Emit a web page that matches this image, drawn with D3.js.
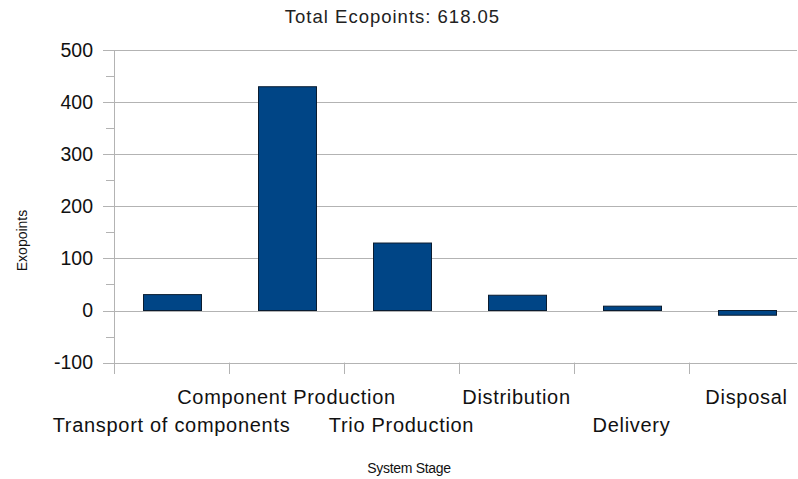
<!DOCTYPE html>
<html>
<head>
<meta charset="utf-8">
<script src="https://cdn.jsdelivr.net/npm/d3@7/dist/d3.min.js"></script>
<style>
  html, body { margin: 0; padding: 0; background: #fff; }
  svg { display: block; font-family: "Liberation Sans", Arial, sans-serif; }
</style>
</head>
<body>
<svg id="chart" width="798" height="479"></svg>
<script>
// Ecopoints per system stage
const categories = [
  "Transport of components",
  "Component Production",
  "Trio Production",
  "Distribution",
  "Delivery",
  "Disposal"
];
const ecopoints = [30.5, 429.5, 129.5, 29.3, 8.3, -9.05];
const yTicks = [-100, 0, 100, 200, 300, 400, 500];
const yMinorTicks = [-50, 50, 150, 250, 350, 450];
const titleText = "Total Ecopoints: 618.05";
const xTitle = "System Stage";
const yTitle = "Exopoints";

const svg = d3.select("#chart");
const plotLeft = 114, plotRight = 804, plotTop = 50, plotBottom = 362.6;

const y = d3.scaleLinear().domain([-100, 500]).range([plotBottom, plotTop]);
const x = d3.scaleBand().domain(categories).range([plotLeft, plotRight])
  .paddingInner(0.4957).paddingOuter(0.4957 / 2);

const gridColor = "#b3b3b3";

// horizontal gridlines with major tick stubs
svg.append("g").selectAll("line").data(yTicks).join("line")
  .attr("x1", 103).attr("x2", 797)
  .attr("y1", d => Math.round(y(d)) + 0.5).attr("y2", d => Math.round(y(d)) + 0.5)
  .attr("stroke", gridColor).attr("stroke-width", 1);

// minor ticks
svg.append("g").selectAll("line").data(yMinorTicks).join("line")
  .attr("x1", 106).attr("x2", plotLeft)
  .attr("y1", d => Math.round(y(d)) + 0.5).attr("y2", d => Math.round(y(d)) + 0.5)
  .attr("stroke", gridColor).attr("stroke-width", 1);

// vertical axis line
svg.append("line")
  .attr("x1", plotLeft + 0.5).attr("x2", plotLeft + 0.5)
  .attr("y1", plotTop).attr("y2", 374)
  .attr("stroke", gridColor);

// category boundary ticks
const step = x.step();
const gap = (step - x.bandwidth()) / 2;
const boundaries = categories.slice(1).map(c => x(c) - gap);
svg.append("g").selectAll("line").data(boundaries).join("line")
  .attr("x1", d => Math.round(d) + 0.5).attr("x2", d => Math.round(d) + 0.5)
  .attr("y1", plotBottom).attr("y2", 374)
  .attr("stroke", gridColor);

// bars
svg.append("g").selectAll("rect").data(ecopoints).join("rect")
  .attr("x", (d, i) => Math.round(x(categories[i])) + 0.5)
  .attr("width", Math.round(x.bandwidth()))
  .attr("y", d => y(Math.max(0, d)))
  .attr("height", d => Math.abs(y(d) - y(0)))
  .attr("fill", "#004586")
  .attr("stroke", "#0a1c30")
  .attr("stroke-width", 1);

// y tick labels
svg.append("g").selectAll("text").data(yTicks).join("text")
  .attr("x", 93).attr("y", d => y(d) + 6.8)
  .attr("text-anchor", "end")
  .attr("font-size", 19.5)
  .attr("fill", "#111")
  .text(d => d);

// category labels, staggered on two rows
svg.append("g").selectAll("text").data(categories).join("text")
  .attr("x", d => x(d) + x.bandwidth() / 2)
  .attr("y", (d, i) => i % 2 === 1 ? 404 : 431.5)
  .attr("text-anchor", "middle")
  .attr("font-size", 20)
  .attr("letter-spacing", 0.7)
  .attr("fill", "#111")
  .text(d => d);

// chart title
svg.append("text")
  .attr("x", 392.5).attr("y", 23.3)
  .attr("text-anchor", "middle")
  .attr("font-size", 18.5)
  .attr("letter-spacing", 1)
  .attr("fill", "#222")
  .text(titleText);

// axis titles
svg.append("text")
  .attr("x", 409).attr("y", 473)
  .attr("text-anchor", "middle")
  .attr("font-size", 14)
  .attr("letter-spacing", -0.3)
  .attr("fill", "#111")
  .text(xTitle);

svg.append("text")
  .attr("transform", "translate(27,240.5) rotate(-90)")
  .attr("text-anchor", "middle")
  .attr("font-size", 14)
  .attr("fill", "#111")
  .text(yTitle);
</script>
</body>
</html>
